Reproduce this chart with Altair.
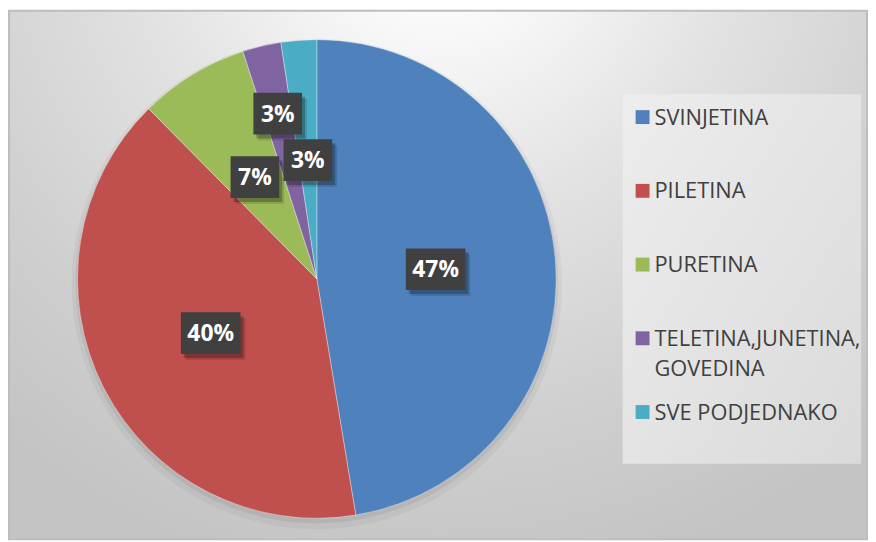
import altair as alt
import pandas as pd

categories = ["SVINJETINA", "PILETINA", "PURETINA", "TELETINA,JUNETINA, GOVEDINA", "SVE PODJEDNAKO"]
values = [47.4, 40.2, 7.4, 2.6, 2.4]
labels = ["47%", "40%", "7%", "3%", "3%"]
colors = ["#4f81bd", "#c0504d", "#9bbb59", "#8064a2", "#4bacc6"]

df = pd.DataFrame({"cat": categories, "value": values, "label": labels, "idx": list(range(len(categories)))})

W, H = 860, 526
CX, CY, R = 310, 268, 241

base = alt.Chart(df)
one = base.transform_filter("datum.idx == 0")
color = alt.Color("cat:N", scale=alt.Scale(domain=categories, range=colors), legend=None)

bg_grad = {
    "gradient": "radial",
    "x1": 0.5, "y1": 0.08, "r1": 0,
    "x2": 0.5, "y2": 0.08, "r2": 0.78,
    "stops": [
        {"offset": 0, "color": "#ffffff"},
        {"offset": 0.15, "color": "#fafafa"},
        {"offset": 0.45, "color": "#e2e2e2"},
        {"offset": 0.75, "color": "#d0d0d0"},
        {"offset": 1, "color": "#c4c4c4"},
    ],
}
bg = one.mark_rect(fill=bg_grad, stroke="#bdbdbd", strokeWidth=2).encode(
    x=alt.value(0), x2=alt.value(W + 4), y=alt.value(-2), y2=alt.value(H + 4)
)

leg_grad = {
    "gradient": "linear", "x1": 0, "y1": 0, "x2": 1, "y2": 1,
    "stops": [{"offset": 0, "color": "#ededed"}, {"offset": 1, "color": "#dadada"}],
}
leg_box = one.mark_rect(fill=leg_grad).encode(
    x=alt.value(618), x2=alt.value(858), y=alt.value(82), y2=alt.value(454)
)

pie_sh1 = one.mark_arc(theta=0, theta2=6.2832, radius=R + 6, fill="black", opacity=0.04).encode(
    x=alt.value(CX), y=alt.value(CY + 5)
)
pie_sh2 = one.mark_arc(theta=0, theta2=6.2832, radius=R + 2, fill="black", opacity=0.06).encode(
    x=alt.value(CX), y=alt.value(CY + 3)
)

pie = base.mark_arc(radius=R, stroke="white", strokeWidth=0.6, strokeOpacity=0.6).encode(
    theta=alt.Theta("value:Q", stack=True),
    order=alt.Order("idx:Q"),
    color=color,
    x=alt.value(CX), y=alt.value(CY),
)

lab = base.transform_window(
    cum="sum(value)", sort=[alt.SortField("idx")], frame=[None, 0]
).transform_joinaggregate(total="sum(value)").transform_calculate(
    ang="2*PI*(datum.cum - datum.value/2)/datum.total"
).transform_calculate(
    lr="datum.idx == 3 ? 171 : 120"
).transform_calculate(
    bx=f"{CX} + datum.lr*sin(datum.ang)"
).transform_calculate(
    by=f"{CY} - datum.lr*cos(datum.ang)"
).transform_calculate(
    bw="27 + 11*length(datum.label)"
).transform_calculate(
    bx1="datum.bx - datum.bw/2"
).transform_calculate(
    bx2="datum.bx + datum.bw/2"
).transform_calculate(
    by1="datum.by - 21"
).transform_calculate(
    by2="datum.by + 21"
)

rect_enc = dict(
    x=alt.X("bx1:Q", scale=None, axis=None), x2="bx2:Q",
    y=alt.Y("by1:Q", scale=None, axis=None), y2="by2:Q",
)
box_sh2 = lab.mark_rect(fill="black", opacity=0.12, xOffset=5, x2Offset=5, yOffset=6, y2Offset=6).encode(**rect_enc)
box_sh1 = lab.mark_rect(fill="black", opacity=0.25, xOffset=3, x2Offset=3, yOffset=4, y2Offset=4).encode(**rect_enc)
boxes = lab.mark_rect(fill="#404040").encode(**rect_enc)
box_text = lab.mark_text(
    font="Open Sans", fontWeight="bold", fontSize=23, color="white",
    align="center", baseline="middle", dy=1
).encode(
    x=alt.X("bx:Q", scale=None, axis=None),
    y=alt.Y("by:Q", scale=None, axis=None),
    text="label:N",
)

leg_y = alt.Y("cat:N", sort=categories, scale=alt.Scale(type="point", range=[105, 402], padding=0), axis=None)
leg_sq = base.mark_square(size=196, opacity=1).encode(x=alt.value(638), y=leg_y, color=color)
leg_text = base.transform_calculate(
    disp="replace(datum.cat, ', ', ',\\n')"
).mark_text(
    align="left", baseline="alphabetic", dy=7.7, font="Open Sans", fontSize=22,
    color="#404040", lineBreak="\n", lineHeight=30
).encode(x=alt.value(650), y=leg_y, text="disp:N")

chart = alt.layer(
    bg, leg_box, pie_sh1, pie_sh2, pie, box_sh2, box_sh1, boxes, box_text, leg_sq, leg_text
).resolve_scale(
    x="independent", y="independent"
).properties(
    width=W, height=H, padding=0, background="white"
).configure_view(stroke=None)

chart.save("out.html", embed_options={"renderer": "svg", "actions": False})
